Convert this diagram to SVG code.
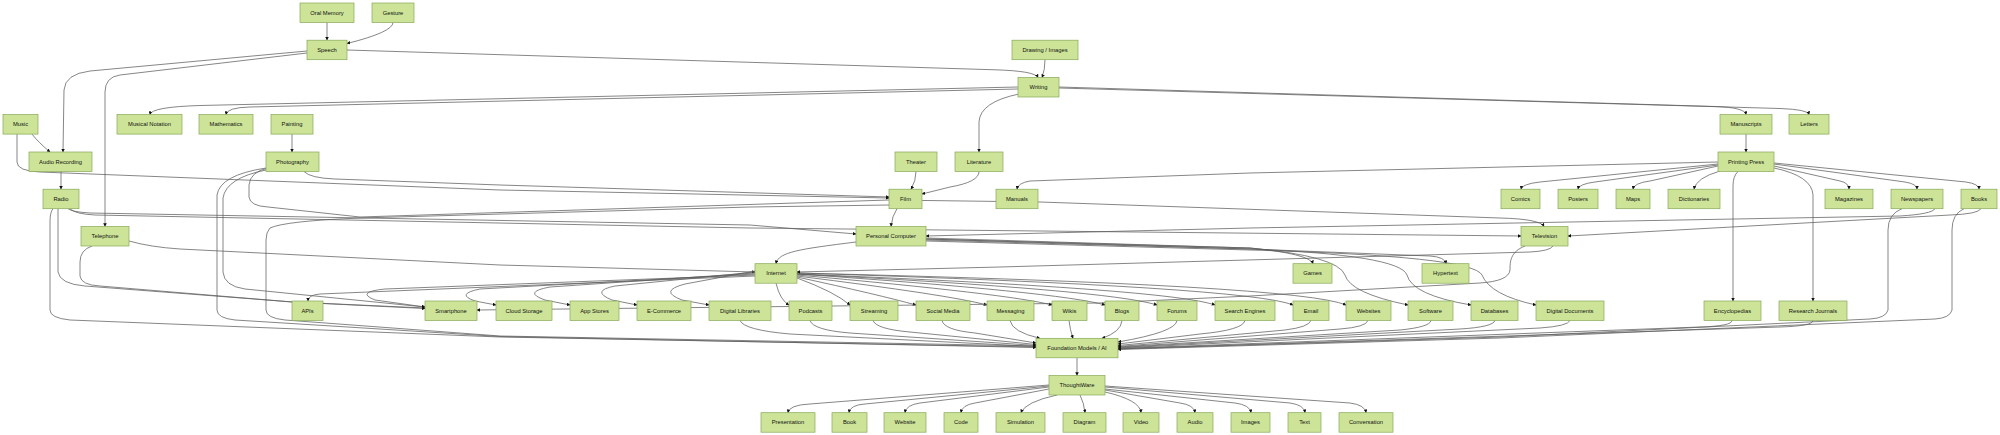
<svg xmlns="http://www.w3.org/2000/svg" width="2000" height="435" viewBox="0 0 2000 435">
<defs>
<marker id="arr" viewBox="0 0 10 10" refX="9" refY="5" markerWidth="3.6" markerHeight="3.6" markerUnits="userSpaceOnUse" orient="auto">
<path d="M0,0 L10,5 L0,10 z" fill="#111"/>
</marker>
<style>
.n rect{fill:#cde498;stroke:#86a856;stroke-width:0.7}
.n text{font-family:"Liberation Sans",Arial,sans-serif;font-size:5.8px;fill:#111;text-anchor:middle;dominant-baseline:central}
#edges path{fill:none;stroke:#5e5e5e;stroke-width:0.75;marker-end:url(#arr)}
</style>
</defs>
<rect width="2000" height="435" fill="#fff"/>
<g id="edges">
<path d="M327,22.5 L327,40.2"/>
<path d="M393,22.5 Q393,32 347,43.5"/>
<path d="M347,50 L995,69.8 Q1035,71 1038,77.5"/>
<path d="M307,51 L90,71 Q65,74 64,90 L63,152"/>
<path d="M307,53 L120,75 Q105,77 105,92 L105,226.5"/>
<path d="M1045,59.7 Q1045,70 1042,77.5"/>
<path d="M1018,87 L200,105.5 Q151,107 150,114.6"/>
<path d="M1018,89 L250,107 Q227,107.5 226,114.6"/>
<path d="M1019,94 Q980,102 979,122 L979,152"/>
<path d="M1059,87 L1715,106.5 Q1745,107.5 1746,114.6"/>
<path d="M1059,88 L1780,108.5 Q1808,109.5 1809,114.6"/>
<path d="M32,134.1 Q38,142 50,152"/>
<path d="M61,171.5 L61,189.2"/>
<path d="M292,134.1 L292,152"/>
<path d="M1746,134.1 L1746,152"/>
<path d="M916,171.5 Q916,181 911,189.2"/>
<path d="M979,171.5 Q979,182 950,187 L922,194"/>
<path d="M17,134.1 L17,162 Q17,171 40,172 L500,190 L889,198"/>
<path d="M304,171.5 Q310,178 335,179 L500,185 L889,197"/>
<path d="M268,168 Q250,172 249,185 L249,197 Q250,206 268,207 L360,217 L889,200 L1040,202 L1500,218 Q1540,219 1544,226.5"/>
<path d="M889,205 L750,207 L360,218 Q285,221 270,228 Q266,232 266,240 L266,310 Q266,318 285,320 L500,336 L1036,346"/>
<path d="M53,208.7 Q50,212 50,222 L50,310 Q50,318 70,320 L500,337 L1036,347"/>
<path d="M266,168 Q220,175 217,195 L217,310 Q217,318 235,320 L500,336.5 L1036,347.5"/>
<path d="M266,170 Q226,178 223,198 L223,272 Q224,286 245,289 L425,307"/>
<path d="M58,208.7 L58,272 Q60,284 85,286 L293,302 L425,308"/>
<path d="M92,246 Q80,250 80,262 L80,276 Q81,285 100,286 L292,302 L425,308.5"/>
<path d="M129,241 Q150,247 180,249 L500,265 L755,272"/>
<path d="M68,208.7 Q72,212 90,213 L750,225 L856,234"/>
<path d="M70,208.7 Q75,214 95,215 L750,228 L1521,236"/>
<path d="M1935,208.7 Q1932,214 1900,216 L1570,222 L1250,228 L926,236"/>
<path d="M1981,208.7 Q1978,214 1950,215 L1568,236"/>
<path d="M1902,208.7 Q1888,214 1888,230 L1888,310 Q1886,318 1870,319 L1500,337 L1118,349"/>
<path d="M1964,208.7 Q1952,214 1952,230 L1952,310 Q1950,318 1935,319 L1500,338 L1118,349.5"/>
<path d="M1732,320.5 Q1732,326 1700,327 L1118,348.5"/>
<path d="M1813,320.5 Q1813,326 1780,327 L1118,348.8"/>
<path d="M1570,320.5 Q1568,326 1540,328 L1118,348"/>
<path d="M1495,320.5 Q1493,327 1460,329 L1118,347.5"/>
<path d="M1431,320.5 Q1430,327 1400,330 L1118,347"/>
<path d="M1368,320.5 Q1366,327 1340,329 L1118,346.5"/>
<path d="M1311,320.5 Q1309,327 1285,330 L1118,345.5"/>
<path d="M1245,320.5 Q1243,330 1200,334 L1118,344"/>
<path d="M1177,320.5 Q1176,332 1118,342"/>
<path d="M1122,320.5 Q1121,332 1102,338.3"/>
<path d="M1069,320.5 Q1070,330 1073,338.3"/>
<path d="M1010,320.5 Q1012,332 1040,338.3"/>
<path d="M942,320.5 Q944,330 975,333 L1036,343"/>
<path d="M873,320.5 Q876,329 910,332 L1036,344.5"/>
<path d="M810,320.5 Q813,330 850,333 L1036,345.5"/>
<path d="M740,320.5 Q744,330 790,334 L1036,346.5"/>
<path d="M1077,357.8 L1077,375.5"/>
<path d="M1049,385 L810,404 Q789,405 788,412.7"/>
<path d="M1049,386 L865,404 Q850,405 849,412.7"/>
<path d="M1049,387 L920,403 Q906,405 905,412.7"/>
<path d="M1049,389 L975,403 Q962,405 961,412.7"/>
<path d="M1057,395 Q1025,402 1021,412.7"/>
<path d="M1080,395 Q1084,403 1085,412.7"/>
<path d="M1105,392 Q1140,400 1141,412.7"/>
<path d="M1105,390 L1180,403 Q1194,405 1195,412.7"/>
<path d="M1105,389 L1235,403 Q1250,405 1251,412.7"/>
<path d="M1105,387 L1290,403 Q1304,405 1305,412.7"/>
<path d="M1105,386 L1350,403 Q1365,405 1366,412.7"/>
<path d="M1718,162 L1250,173 L1030,181 Q1018,183 1017,189.2"/>
<path d="M1718,164 L1540,182 Q1522,184 1521,189.2"/>
<path d="M1718,165 L1595,182 Q1579,184 1578,189.2"/>
<path d="M1718,166 L1650,181 Q1634,183 1633,189.2"/>
<path d="M1720,171 Q1696,178 1694,189.2"/>
<path d="M1774,166 L1840,181 Q1849,183 1849,189.2"/>
<path d="M1774,164 L1905,182 Q1917,184 1917,189.2"/>
<path d="M1774,163 L1966,182 Q1979,184 1979,189.2"/>
<path d="M1738,171.5 Q1733,176 1733,186 L1733,301"/>
<path d="M1774,168 Q1812,176 1813,195 L1813,301"/>
<path d="M897,208.7 Q892,216 891,226.5"/>
<path d="M856,242 C800,249 778,252 776,263.7"/>
<path d="M926,238 L1250,248 Q1310,254 1313,263.7"/>
<path d="M926,239 L1250,249 L1430,256 Q1445,257 1446,263.7"/>
<path d="M926,239 L1250,248 Q1338,256 1345,275 Q1350,293 1408,305"/>
<path d="M926,240 L1250,249 Q1400,255 1407,275 Q1412,295 1471,305"/>
<path d="M926,241 L1250,250 Q1473,256 1482,275 Q1490,295 1536,305"/>
<path d="M755,276 L320,294 Q308,295 308,301"/>
<path d="M755,275 L385,289 Q355,292 375,300 L425,307"/>
<path d="M755,274 L480,289 Q455,294 475,301 L496,305"/>
<path d="M755,273 L550,287 Q522,292 545,300 L570,305"/>
<path d="M755,272 L615,286 Q590,291 612,300 L637,305"/>
<path d="M755,271 L685,284 Q658,291 682,300 L709,305"/>
<path d="M776,283.2 Q780,300 789,305"/>
<path d="M797,278 Q835,292 850,305"/>
<path d="M797,277 Q880,295 916,305"/>
<path d="M797,276 Q950,295 987,305"/>
<path d="M797,275 Q1010,294 1052,305"/>
<path d="M797,274 Q1060,292 1105,305"/>
<path d="M797,274 Q1110,290 1157,305"/>
<path d="M797,274 Q1170,289 1215,305"/>
<path d="M797,273 Q1250,287 1293,305"/>
<path d="M797,273 Q1300,285 1346,305"/>
<path d="M1553,246 Q1550,251 1530,252 L1000,267 L797,272"/>
<path d="M1525,246 C1510,252 1510,262 1510,270 Q1509,281 1480,283 L1250,296 L1100,303 L477,310"/>
</g>
<g id="n-oral-memory" class="n"><rect x="300" y="3" width="54" height="19.5"/><text x="327" y="12.75">Oral Memory</text></g>
<g id="n-gesture" class="n"><rect x="372" y="3" width="42" height="19.5"/><text x="393" y="12.75">Gesture</text></g>
<g id="n-speech" class="n"><rect x="307" y="40.2" width="40" height="19.5"/><text x="327" y="49.95">Speech</text></g>
<g id="n-drawing" class="n"><rect x="1012" y="40.2" width="66" height="19.5"/><text x="1045" y="49.95">Drawing / Images</text></g>
<g id="n-writing" class="n"><rect x="1018" y="77.5" width="41" height="19.5"/><text x="1038.5" y="87.25">Writing</text></g>
<g id="n-music" class="n"><rect x="3" y="114.6" width="35" height="19.5"/><text x="20.5" y="124.35">Music</text></g>
<g id="n-musical-notation" class="n"><rect x="117" y="114.6" width="65" height="19.5"/><text x="149.5" y="124.35">Musical Notation</text></g>
<g id="n-mathematics" class="n"><rect x="199" y="114.6" width="54" height="19.5"/><text x="226" y="124.35">Mathematics</text></g>
<g id="n-painting" class="n"><rect x="271" y="114.6" width="42" height="19.5"/><text x="292" y="124.35">Painting</text></g>
<g id="n-manuscripts" class="n"><rect x="1720" y="114.6" width="52" height="19.5"/><text x="1746" y="124.35">Manuscripts</text></g>
<g id="n-letters" class="n"><rect x="1789" y="114.6" width="40" height="19.5"/><text x="1809" y="124.35">Letters</text></g>
<g id="n-audio-recording" class="n"><rect x="29" y="152" width="63" height="19.5"/><text x="60.5" y="161.75">Audio Recording</text></g>
<g id="n-photography" class="n"><rect x="266" y="152" width="53" height="19.5"/><text x="292.5" y="161.75">Photography</text></g>
<g id="n-theater" class="n"><rect x="895" y="152" width="42" height="19.5"/><text x="916" y="161.75">Theater</text></g>
<g id="n-literature" class="n"><rect x="955" y="152" width="48" height="19.5"/><text x="979" y="161.75">Literature</text></g>
<g id="n-printing-press" class="n"><rect x="1718" y="152" width="56" height="19.5"/><text x="1746" y="161.75">Printing Press</text></g>
<g id="n-radio" class="n"><rect x="43" y="189.2" width="36" height="19.5"/><text x="61" y="198.95">Radio</text></g>
<g id="n-film" class="n"><rect x="889" y="189.2" width="33" height="19.5"/><text x="905.5" y="198.95">Film</text></g>
<g id="n-manuals" class="n"><rect x="996" y="189.2" width="42" height="19.5"/><text x="1017" y="198.95">Manuals</text></g>
<g id="n-comics" class="n"><rect x="1501" y="189.2" width="39" height="19.5"/><text x="1520.5" y="198.95">Comics</text></g>
<g id="n-posters" class="n"><rect x="1558" y="189.2" width="40" height="19.5"/><text x="1578" y="198.95">Posters</text></g>
<g id="n-maps" class="n"><rect x="1616" y="189.2" width="34" height="19.5"/><text x="1633" y="198.95">Maps</text></g>
<g id="n-dictionaries" class="n"><rect x="1668" y="189.2" width="52" height="19.5"/><text x="1694" y="198.95">Dictionaries</text></g>
<g id="n-magazines" class="n"><rect x="1825" y="189.2" width="48" height="19.5"/><text x="1849" y="198.95">Magazines</text></g>
<g id="n-newspapers" class="n"><rect x="1891" y="189.2" width="52" height="19.5"/><text x="1917" y="198.95">Newspapers</text></g>
<g id="n-books" class="n"><rect x="1961" y="189.2" width="36" height="19.5"/><text x="1979" y="198.95">Books</text></g>
<g id="n-telephone" class="n"><rect x="81" y="226.5" width="48" height="19.5"/><text x="105" y="236.25">Telephone</text></g>
<g id="n-personal-computer" class="n"><rect x="856" y="226.5" width="70" height="19.5"/><text x="891" y="236.25">Personal Computer</text></g>
<g id="n-television" class="n"><rect x="1521" y="226.5" width="47" height="19.5"/><text x="1544.5" y="236.25">Television</text></g>
<g id="n-internet" class="n"><rect x="755" y="263.7" width="42" height="19.5"/><text x="776" y="273.45">Internet</text></g>
<g id="n-games" class="n"><rect x="1293" y="263.7" width="39" height="19.5"/><text x="1312.5" y="273.45">Games</text></g>
<g id="n-hypertext" class="n"><rect x="1422" y="263.7" width="47" height="19.5"/><text x="1445.5" y="273.45">Hypertext</text></g>
<g id="n-apis" class="n"><rect x="292" y="301" width="31" height="19.5"/><text x="307.5" y="310.75">APIs</text></g>
<g id="n-smartphone" class="n"><rect x="425" y="301" width="52" height="19.5"/><text x="451" y="310.75">Smartphone</text></g>
<g id="n-cloud-storage" class="n"><rect x="496" y="301" width="56" height="19.5"/><text x="524" y="310.75">Cloud Storage</text></g>
<g id="n-app-stores" class="n"><rect x="570" y="301" width="49" height="19.5"/><text x="594.5" y="310.75">App Stores</text></g>
<g id="n-e-commerce" class="n"><rect x="637" y="301" width="54" height="19.5"/><text x="664" y="310.75">E-Commerce</text></g>
<g id="n-digital-libraries" class="n"><rect x="709" y="301" width="62" height="19.5"/><text x="740" y="310.75">Digital Libraries</text></g>
<g id="n-podcasts" class="n"><rect x="789" y="301" width="43" height="19.5"/><text x="810.5" y="310.75">Podcasts</text></g>
<g id="n-streaming" class="n"><rect x="850" y="301" width="48" height="19.5"/><text x="874" y="310.75">Streaming</text></g>
<g id="n-social-media" class="n"><rect x="916" y="301" width="54" height="19.5"/><text x="943" y="310.75">Social Media</text></g>
<g id="n-messaging" class="n"><rect x="987" y="301" width="47" height="19.5"/><text x="1010.5" y="310.75">Messaging</text></g>
<g id="n-wikis" class="n"><rect x="1052" y="301" width="35" height="19.5"/><text x="1069.5" y="310.75">Wikis</text></g>
<g id="n-blogs" class="n"><rect x="1105" y="301" width="34" height="19.5"/><text x="1122" y="310.75">Blogs</text></g>
<g id="n-forums" class="n"><rect x="1157" y="301" width="40" height="19.5"/><text x="1177" y="310.75">Forums</text></g>
<g id="n-search-engines" class="n"><rect x="1215" y="301" width="60" height="19.5"/><text x="1245" y="310.75">Search Engines</text></g>
<g id="n-email" class="n"><rect x="1293" y="301" width="36" height="19.5"/><text x="1311" y="310.75">Email</text></g>
<g id="n-websites" class="n"><rect x="1346" y="301" width="45" height="19.5"/><text x="1368.5" y="310.75">Websites</text></g>
<g id="n-software" class="n"><rect x="1408" y="301" width="45" height="19.5"/><text x="1430.5" y="310.75">Software</text></g>
<g id="n-databases" class="n"><rect x="1471" y="301" width="47" height="19.5"/><text x="1494.5" y="310.75">Databases</text></g>
<g id="n-digital-documents" class="n"><rect x="1536" y="301" width="68" height="19.5"/><text x="1570" y="310.75">Digital Documents</text></g>
<g id="n-encyclopedias" class="n"><rect x="1704" y="301" width="57" height="19.5"/><text x="1732.5" y="310.75">Encyclopedias</text></g>
<g id="n-research-journals" class="n"><rect x="1779" y="301" width="68" height="19.5"/><text x="1813" y="310.75">Research Journals</text></g>
<g id="n-foundation-models" class="n"><rect x="1036" y="338.3" width="82" height="19.5"/><text x="1077" y="348.05">Foundation Models / AI</text></g>
<g id="n-thoughtware" class="n"><rect x="1049" y="375.5" width="56" height="19.5"/><text x="1077" y="385.25">ThoughtWare</text></g>
<g id="n-presentation" class="n"><rect x="761" y="412.7" width="54" height="19.5"/><text x="788" y="422.45">Presentation</text></g>
<g id="n-book" class="n"><rect x="832" y="412.7" width="35" height="19.5"/><text x="849.5" y="422.45">Book</text></g>
<g id="n-website" class="n"><rect x="884" y="412.7" width="42" height="19.5"/><text x="905" y="422.45">Website</text></g>
<g id="n-code" class="n"><rect x="944" y="412.7" width="34" height="19.5"/><text x="961" y="422.45">Code</text></g>
<g id="n-simulation" class="n"><rect x="996" y="412.7" width="49" height="19.5"/><text x="1020.5" y="422.45">Simulation</text></g>
<g id="n-diagram" class="n"><rect x="1063" y="412.7" width="43" height="19.5"/><text x="1084.5" y="422.45">Diagram</text></g>
<g id="n-video" class="n"><rect x="1123" y="412.7" width="36" height="19.5"/><text x="1141" y="422.45">Video</text></g>
<g id="n-audio" class="n"><rect x="1177" y="412.7" width="36" height="19.5"/><text x="1195" y="422.45">Audio</text></g>
<g id="n-images" class="n"><rect x="1231" y="412.7" width="39" height="19.5"/><text x="1250.5" y="422.45">Images</text></g>
<g id="n-text" class="n"><rect x="1288" y="412.7" width="33" height="19.5"/><text x="1304.5" y="422.45">Text</text></g>
<g id="n-conversation" class="n"><rect x="1339" y="412.7" width="54" height="19.5"/><text x="1366" y="422.45">Conversation</text></g>
</svg>
